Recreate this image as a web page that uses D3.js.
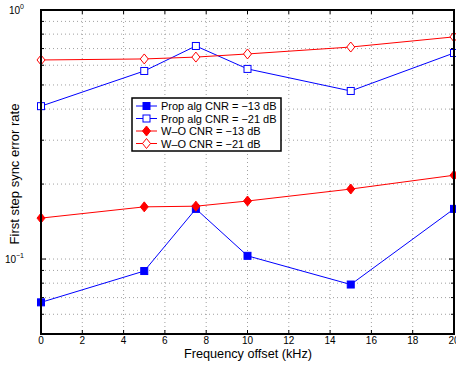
<!DOCTYPE html>
<html>
<head>
<meta charset="utf-8">
<script src="https://cdn.jsdelivr.net/npm/d3@7"></script>
<style>
  body { margin: 0; background: #fff; }
  svg { font-family: "Liberation Sans", Arial, sans-serif; }
</style>
</head>
<body>
<svg id="chart" width="456" height="366"></svg>
<script>
// frequency offsets (kHz)
var offsets = [0, 5, 7.5, 10, 15, 20];

// error rates
var propAlg13 = [0.067, 0.0895, 0.159, 0.103, 0.079, 0.159];
var propAlg21 = [0.411, 0.569, 0.717, 0.58, 0.473, 0.672];
var wo13 = [0.146, 0.162, 0.163, 0.171, 0.191, 0.217];
var wo21 = [0.63, 0.636, 0.647, 0.666, 0.71, 0.78];

var seriesNames = ['Prop alg CNR = \u221213 dB', 'Prop alg CNR = \u221221 dB',
                   'W\u2013O CNR = \u221213 dB', 'W\u2013O CNR = \u221221 dB'];

var xTicks = [0, 2, 4, 6, 8, 10, 12, 14, 16, 18, 20];
var yMinor = [0.06, 0.07, 0.08, 0.09, 0.2, 0.3, 0.4, 0.5, 0.6, 0.7, 0.8, 0.9];

var series = [
    {name: seriesNames[0], values: propAlg13, color: '#0000ff', shape: 'square', filled: true},
    {name: seriesNames[1], values: propAlg21, color: '#0000ff', shape: 'square', filled: false},
    {name: seriesNames[2], values: wo13, color: '#ff0000', shape: 'diamond', filled: true},
    {name: seriesNames[3], values: wo21, color: '#ff0000', shape: 'diamond', filled: false}
];

var svg = d3.select('#chart');
var margin = {left: 41, right: 454, top: 10, bottom: 334};

var xScale = d3.scaleLinear().domain([0, 20]).range([margin.left, margin.right]);
var yScale = d3.scaleLog().domain([0.05, 1]).range([margin.bottom, margin.top]);

// grid
var grid = svg.append('g').attr('stroke', '#888').attr('stroke-dasharray', '1,3').attr('stroke-width', 0.8);
xTicks.slice(1, -1).forEach(function(t) {
    grid.append('line').attr('x1', xScale(t)).attr('x2', xScale(t))
        .attr('y1', margin.top).attr('y2', margin.bottom);
});
yMinor.concat([0.1]).forEach(function(t) {
    grid.append('line').attr('x1', margin.left).attr('x2', margin.right)
        .attr('y1', yScale(t)).attr('y2', yScale(t));
});

// ticks inward on all sides
var ticks = svg.append('g').attr('stroke', '#000').attr('stroke-width', 1);
xTicks.forEach(function(t) {
    ticks.append('line').attr('x1', xScale(t)).attr('x2', xScale(t))
        .attr('y1', margin.bottom).attr('y2', margin.bottom - 4);
    ticks.append('line').attr('x1', xScale(t)).attr('x2', xScale(t))
        .attr('y1', margin.top).attr('y2', margin.top + 4);
});
yMinor.forEach(function(t) {
    ticks.append('line').attr('x1', margin.left).attr('x2', margin.left + 3)
        .attr('y1', yScale(t)).attr('y2', yScale(t));
    ticks.append('line').attr('x1', margin.right).attr('x2', margin.right - 3)
        .attr('y1', yScale(t)).attr('y2', yScale(t));
});
[0.1, 1].forEach(function(t) {
    ticks.append('line').attr('x1', margin.left).attr('x2', margin.left + 5)
        .attr('y1', yScale(t)).attr('y2', yScale(t));
    ticks.append('line').attr('x1', margin.right).attr('x2', margin.right - 5)
        .attr('y1', yScale(t)).attr('y2', yScale(t));
});

// tick labels
svg.selectAll('.xlab')
    .data(xTicks)
    .enter()
    .append('text')
        .attr('x', d => xScale(d))
        .attr('y', margin.bottom + 10)
        .style('font-size', '10px')
        .style('text-anchor', 'middle')
        .text(d => d);

[[1, '0'], [0.1, '\u22121']].forEach(function(p) {
    var g = svg.append('text')
        .attr('x', margin.left - 17)
        .attr('y', yScale(p[0]) + 4)
        .style('font-size', '10px')
        .style('text-anchor', 'end');
    g.append('tspan').text('10');
    g.append('tspan').attr('dy', -5).style('font-size', '7px').text(p[1]);
});

// axis labels
svg.append('text')
    .attr('x', 248)
    .attr('y', 358)
    .style('font-size', '12.7px')
    .style('text-anchor', 'middle')
    .text('Frequency offset (kHz)');

svg.append('text')
    .attr('transform', 'rotate(-90)')
    .attr('x', -174)
    .attr('y', 19)
    .style('font-size', '13px')
    .style('text-anchor', 'middle')
    .text('First step sync error rate');

// markers
function drawMarker(g, shape, cx, cy, color, filled) {
    if (shape === 'square') {
        g.append('rect').attr('x', cx - 3.5).attr('y', cy - 3.5)
            .attr('width', 7).attr('height', 7)
            .attr('fill', filled ? color : '#fff').attr('stroke', color).attr('stroke-width', 1);
    } else {
        var r = 5;
        g.append('path')
            .attr('d', `M${cx},${cy - r}L${cx + r * 0.8},${cy}L${cx},${cy + r}L${cx - r * 0.8},${cy}Z`)
            .attr('fill', filled ? color : '#fff').attr('stroke', color).attr('stroke-width', 1);
    }
}

var line = d3.line()
    .x(d => xScale(d[0]))
    .y(d => yScale(d[1]));

series.forEach(function(s) {
    var pts = offsets.map((o, i) => [o, s.values[i]]);
    var g = svg.append('g');
    g.append('path').datum(pts)
        .attr('d', line)
        .attr('fill', 'none')
        .attr('stroke', s.color)
        .attr('stroke-width', 1);
    pts.forEach(function(p) {
        drawMarker(g, s.shape, xScale(p[0]), yScale(p[1]), s.color, s.filled);
    });
});

// frame
svg.append('rect')
    .attr('x', margin.left).attr('y', margin.top)
    .attr('width', margin.right - margin.left).attr('height', margin.bottom - margin.top)
    .attr('fill', 'none').attr('stroke', '#000').attr('stroke-width', 2);

// legend
var legend = svg.append('g');
legend.append('rect')
    .attr('x', 132).attr('y', 98).attr('width', 149).attr('height', 53)
    .attr('fill', '#fff').attr('stroke', '#000').attr('stroke-width', 1.5);
series.forEach(function(s, i) {
    var ly = 106 + i * 12.5;
    legend.append('line')
        .attr('x1', 136).attr('x2', 157).attr('y1', ly).attr('y2', ly)
        .attr('stroke', s.color).attr('stroke-width', 1);
    drawMarker(legend, s.shape, 146.5, ly, s.color, s.filled);
    legend.append('text')
        .attr('x', 161).attr('y', ly + 4)
        .style('font-size', '11px')
        .text(s.name);
});
</script>
</body>
</html>
